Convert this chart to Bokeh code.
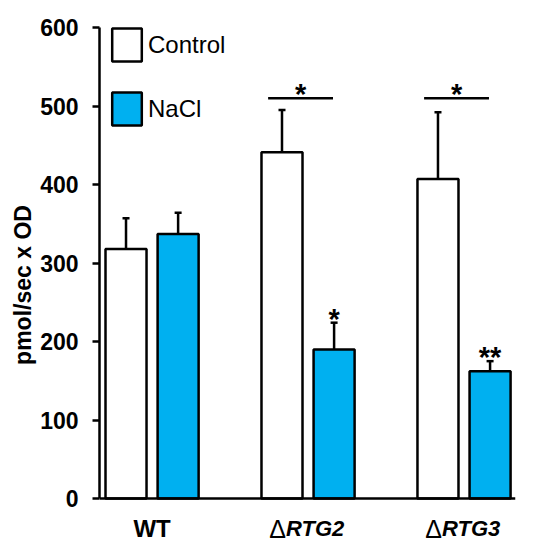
from bokeh.plotting import figure
from bokeh.models import (ColumnDataSource, Range1d, Whisker, TeeHead, Title,
                          Legend, LegendItem, FixedTicker, Span)
from bokeh.embed import file_html
from bokeh.resources import INLINE
from bokeh.core.properties import value

# ---- data ----
strains = ["WT", "RTG2", "RTG3"]
strain_prefix = ["", "Δ", "Δ"]
strain_italic = [False, True, True]
series_names = ["Control", "NaCl"]
control = [318, 441, 407]
control_err = [39, 54, 85]
nacl = [337, 190, 162]
nacl_err = [27, 34, 13]
pair_sig = ["", "*", "*"]
nacl_sig = ["", "*", "**"]
pair_sig_level = 510
y_ticks = [0, 100, 200, 300, 400, 500, 600]
y_title = "pmol/sec x OD"

FONT = value("Liberation Sans")
BLUE = "#00B0F0"
LW = 2.5
off = 0.167
bw = 0.263

idx = list(range(len(strains)))
src_c = ColumnDataSource(dict(x=[i - off for i in idx], top=control,
                              up=[v + e for v, e in zip(control, control_err)]))
src_n = ColumnDataSource(dict(x=[i + off for i in idx], top=nacl,
                              up=[v + e for v, e in zip(nacl, nacl_err)],
                              sig=nacl_sig))

p = figure(width=525, height=545, x_range=Range1d(-0.337, 2.33), y_range=Range1d(-56, 600),
           output_backend="svg", toolbar_location=None,
           min_border_left=99, min_border_right=10, min_border_top=27, min_border_bottom=3)
p.outline_line_color = None
p.xgrid.visible = False
p.ygrid.visible = False
p.xaxis.visible = False
p.background_fill_color = "white"
p.border_fill_color = "white"

rc = p.vbar(x="x", top="top", width=bw, source=src_c, fill_color="white",
            line_color="black", line_width=LW)
rn = p.vbar(x="x", top="top", width=bw, source=src_n, fill_color=BLUE,
            line_color="black", line_width=LW)

# x axis baseline at zero
p.add_layout(Span(location=0, dimension="width", line_color="black", line_width=LW))

for s in (src_c, src_n):
    p.add_layout(Whisker(source=s, base="x", lower="top", upper="up", line_width=LW,
                         line_color="black", lower_head=None,
                         upper_head=TeeHead(size=7, line_width=LW, line_color="black")))

# pairwise significance lines
sig_i = [i for i in idx if pair_sig[i]]
src_sig = ColumnDataSource(dict(x0=[i - 0.256 for i in sig_i], x1=[i + 0.16 for i in sig_i],
                                xm=[i - 0.048 for i in sig_i],
                                y=[pair_sig_level] * len(sig_i),
                                t=[pair_sig[i] for i in sig_i]))
p.segment(x0="x0", y0="y", x1="x1", y1="y", source=src_sig, line_color="black", line_width=LW)
p.text(x="xm", y="y", text="t", source=src_sig, text_font=FONT, text_font_style="bold",
       text_font_size="29px", text_align="center", text_baseline="middle",
       y_offset=-4, text_color="black")
p.text(x="x", y="up", text="sig", source=src_n, text_font=FONT, text_font_style="bold",
       text_font_size="29px", text_align="center", text_baseline="middle",
       y_offset=-4, text_color="black")

# y axis
p.yaxis.bounds = (0, 600)
p.yaxis.ticker = FixedTicker(ticks=y_ticks)
p.yaxis.minor_tick_line_color = None
p.yaxis.major_tick_in = 0
p.yaxis.major_tick_out = 7
p.yaxis.major_tick_line_width = LW
p.yaxis.axis_line_width = LW
p.yaxis.major_label_text_font = "Liberation Sans"
p.yaxis.major_label_text_font_style = "bold"
p.yaxis.major_label_text_font_size = "23px"
p.yaxis.major_label_text_color = "black"
p.yaxis.major_label_standoff = 14

# y title (offset so it centres on the 0-600 span, not the whole frame)
p.add_layout(Title(text=y_title, align="center", offset=20, standoff=4,
                   text_font="Liberation Sans", text_font_style="bold",
                   text_font_size="23px", text_color="black"), "left")

# x category labels
plain = [i for i in idx if not strain_italic[i]]
ital = [i for i in idx if strain_italic[i]]
src_lp = ColumnDataSource(dict(x=plain, y=[0] * len(plain), t=[strains[i] for i in plain]))
src_pre = ColumnDataSource(dict(x=ital, y=[0] * len(ital), t=[strain_prefix[i] for i in ital]))
src_it = ColumnDataSource(dict(x=ital, y=[0] * len(ital), t=[strains[i] for i in ital]))
common = dict(x="x", y="y", text="t", text_font=FONT,
              text_baseline="middle", y_offset=30, text_color="black")
p.text(source=src_lp, text_font_style="bold", text_align="center", text_font_size="24px", **common)
p.text(source=src_pre, text_font_style="normal", text_align="right", x_offset=-22,
       text_font_size="25px", **common)
p.text(source=src_it, text_font_style="bold italic", text_align="left", x_offset=-22,
       text_font_size="22px", **common)

legend = Legend(items=[LegendItem(label=series_names[0], renderers=[rc]),
                       LegendItem(label=series_names[1], renderers=[rn])],
                location=(9, 413), glyph_width=37, glyph_height=41, spacing=23,
                padding=0, margin=0, label_standoff=3,
                label_text_font="Liberation Sans", label_text_font_size="24px",
                label_text_color="black", border_line_color=None,
                background_fill_alpha=0)
p.add_layout(legend)

open("out.html", "w").write(file_html(p, INLINE))
